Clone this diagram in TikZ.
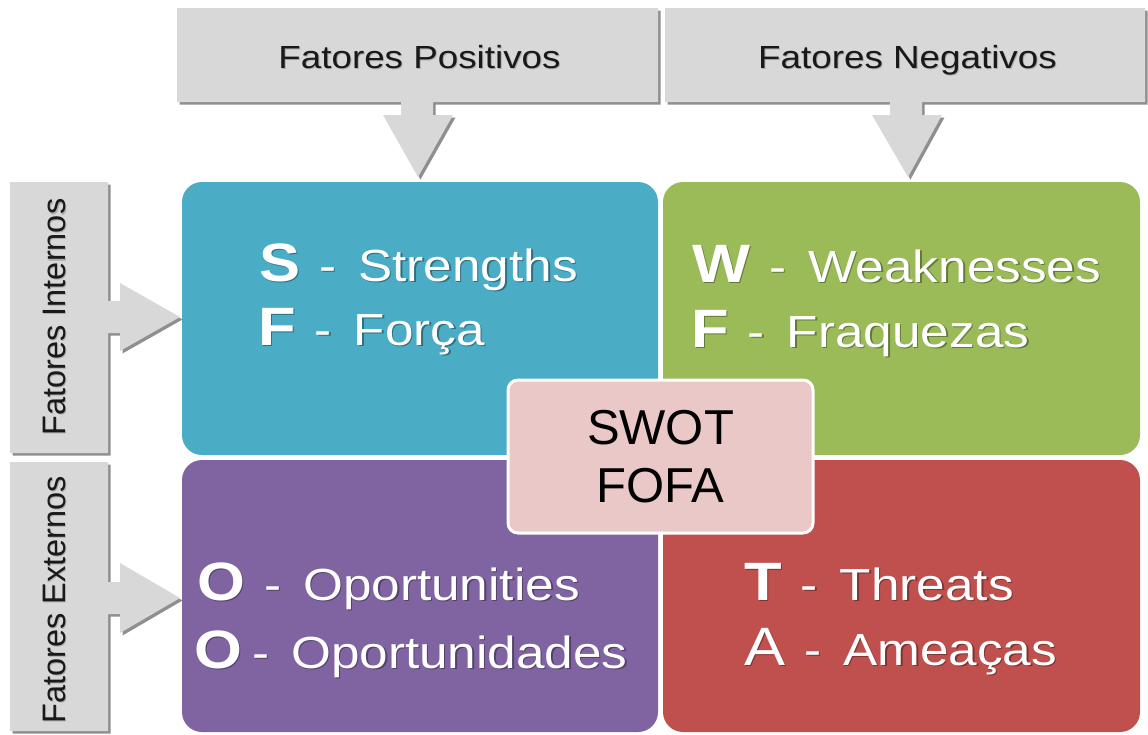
\documentclass[tikz,border=0pt]{standalone}
\usepackage{fontspec}
\setmainfont{Liberation Sans}
\newfontfamily\qfont[FakeStretch=1.14]{Liberation Sans}
\newfontfamily\lfont[FakeStretch=1.15]{Liberation Sans}
\usetikzlibrary{shadows}
\definecolor{cS}{HTML}{4AACC5}
\definecolor{cW}{HTML}{9BBB59}
\definecolor{cO}{HTML}{8064A2}
\definecolor{cT}{HTML}{C0504D}
\definecolor{cC}{HTML}{E9C8C7}
\definecolor{gfill}{HTML}{D8D8D8}
\newcommand\qbig[1]{{\fontsize{54}{54}\selectfont\bfseries #1}}
\newcommand\qreg[1]{{\fontsize{54}{54}\selectfont #1}}
\newcommand\qline[3]{#1\hspace{#2}-\hspace{22pt}#3}
\newcommand\shnode[4]{%
  \node[#3,tshadow] (#1-sh) at ([shift={(1.5,1.5)}]#2) {#4};
  \node[#3] (#1) at (#2) {#4};}
\begin{document}
\begin{tikzpicture}[x=1pt,y=-1pt,
  banner/.style={fill=gfill, drop shadow={shadow xshift=2.5pt, shadow yshift=-2.5pt, opacity=0.55, fill=black!80}},
  quad/.style={rounded corners=20pt, inner sep=0pt, outer sep=0pt},
  qtext/.style={anchor=base west, inner sep=0pt, text=white, font=\qfont\fontsize{45}{54}\selectfont},
  tshadow/.style={text=black, opacity=0.35},
  ltext/.style={anchor=base, inner sep=0pt, text=black!90, font=\lfont\fontsize{32}{38}\selectfont},
  vtext/.style={anchor=base, inner sep=0pt, text=black!90, rotate=90, font=\fontsize{32.5}{38}\selectfont},
  lshadow/.style={text=black, opacity=0.2}]
\useasboundingbox (0,0) rectangle (1148,734);
\fill[white] (0,0) rectangle (1148,734);
% banners
\path[banner] (177,8) -- (658,8) -- (658,102) -- (433,102) -- (433,115) -- (453,115) -- (418,177) -- (383,115) -- (401,115) -- (401,102) -- (177,102) -- cycle;
\path[banner] (665,8) -- (1145,8) -- (1145,102) -- (922,102) -- (922,115) -- (942,115) -- (908,177) -- (872,115) -- (890,115) -- (890,102) -- (665,102) -- cycle;
\path[banner] (10,182) -- (108,182) -- (108,301) -- (120,301) -- (120,283) -- (180,317) -- (120,351) -- (120,333) -- (108,333) -- (108,453) -- (10,453) -- cycle;
\path[banner] (10,462) -- (108,462) -- (108,582) -- (120,582) -- (120,563) -- (180,598) -- (120,633) -- (120,614) -- (108,614) -- (108,731) -- (10,731) -- cycle;
% banner labels
\node[ltext,lshadow] (pos-sh) at (420.5,69.5) {Fatores Positivos};
\node[ltext] (pos) at (419.5,68) {Fatores Positivos};
\node[ltext,lshadow] (neg-sh) at (908.5,69.5) {Fatores Negativos};
\node[ltext] (neg) at (907.5,68) {Fatores Negativos};
\node[vtext,lshadow] (int-sh) at (66.5,318.5) {Fatores Internos};
\node[vtext] (int) at (65,317) {Fatores Internos};
\node[vtext,lshadow] (ext-sh) at (66.5,601) {Fatores Externos};
\node[vtext] (ext) at (65,599.5) {Fatores Externos};
% quadrants
\node[quad, fill=cS, minimum width=476pt, minimum height=273pt] (S) at (420,318.5) {};
\node[quad, fill=cW, minimum width=477pt, minimum height=273pt] (W) at (901.5,318.5) {};
\node[quad, fill=cO, minimum width=476pt, minimum height=272pt] (O) at (420,596) {};
\node[quad, fill=cT, minimum width=477pt, minimum height=272pt] (T) at (901.5,596) {};
% quadrant texts
\shnode{s1}{259,281}{qtext}{\qline{\qbig{S}}{19pt}{Strengths}}
\shnode{s2}{258,345}{qtext}{\qline{\qbig{F}}{19pt}{Força}}
\shnode{w1}{692,282}{qtext}{\qline{\qbig{W}}{19pt}{Weaknesses}}
\shnode{w2}{691,347}{qtext}{\qline{\qbig{F}}{19pt}{Fraquezas}}
\shnode{o1}{197,600}{qtext}{\qline{\qbig{O}}{19pt}{Oportunities}}
\shnode{o2}{194,668}{qtext}{\qline{\qbig{O}}{10pt}{Oportunidades}}
\shnode{t1}{744,600}{qtext}{\qline{\qbig{T}}{19pt}{Threats}}
\shnode{t2}{744,665}{qtext}{\qline{\qreg{A}}{19pt}{Ameaças}}
% center
\node[fill=cC, draw=white, line width=3pt, rounded corners=10pt, minimum width=305pt, minimum height=153pt, inner sep=0pt, align=center, font=\fontsize{49}{58}\selectfont] (C) at (660.5,456.5) {SWOT\\FOFA};
\end{tikzpicture}
\end{document}
